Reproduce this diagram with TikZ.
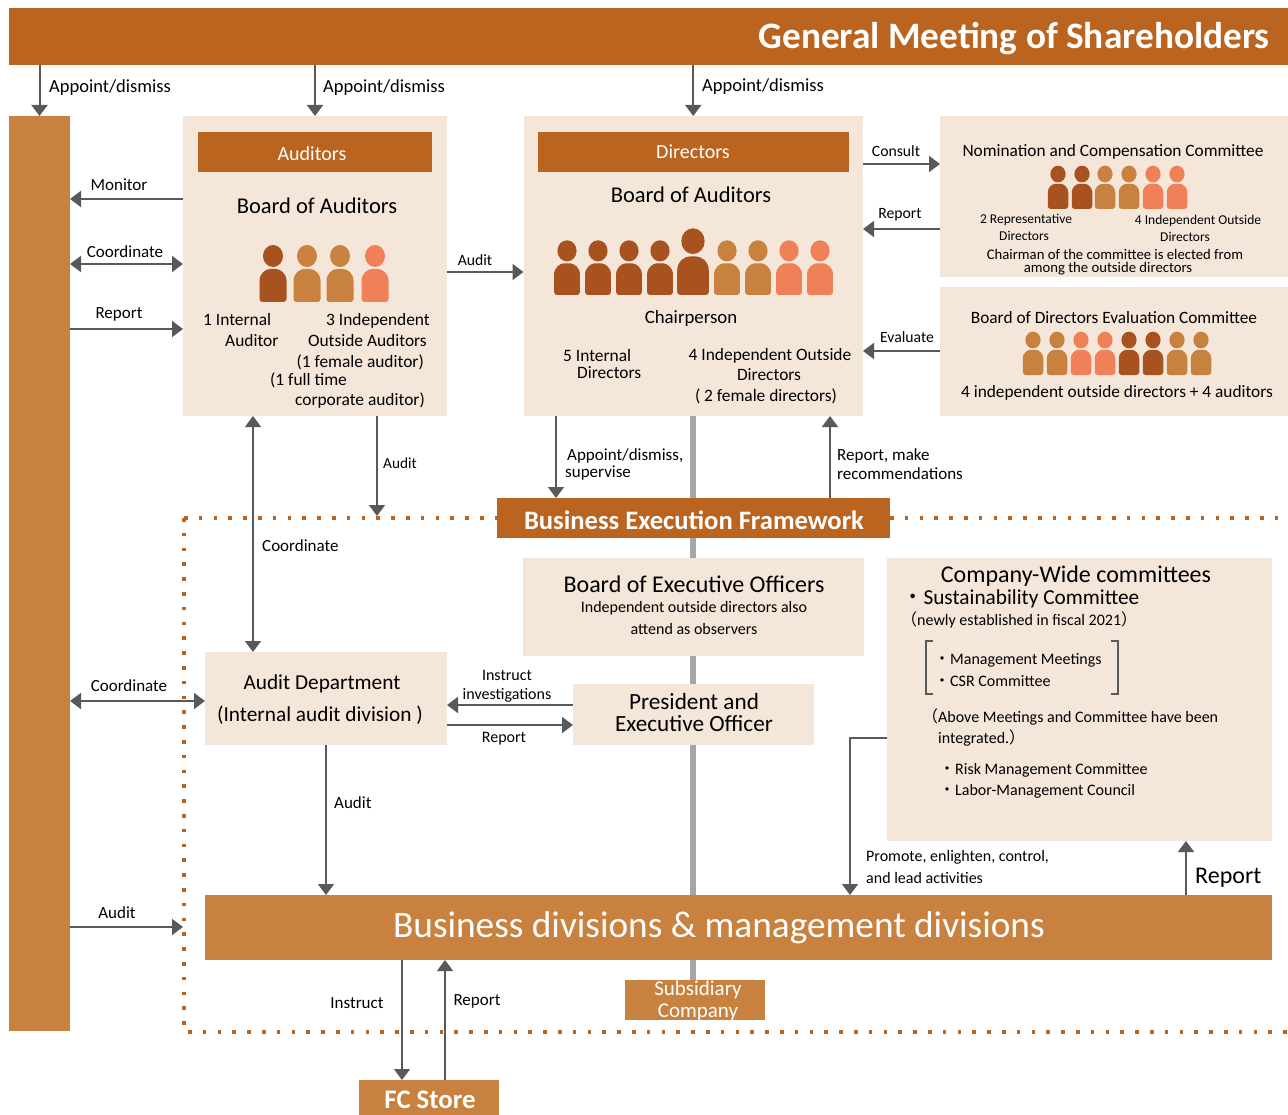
\documentclass[tikz,border=0pt]{standalone}
\usepackage{fontspec}
\setmainfont{Carlito}
\newfontfamily\cjk{Noto Sans CJK JP}
\usetikzlibrary{arrows.meta,backgrounds}

\definecolor{rust}{HTML}{BA6420}
\definecolor{ochre}{HTML}{C8813E}
\definecolor{cream}{HTML}{F4E6D9}
\definecolor{salmon}{HTML}{F08058}
\definecolor{umber}{HTML}{A8521F}
\definecolor{arrowgray}{HTML}{595959}
\definecolor{spine}{HTML}{A6A6A6}

\newcommand{\fs}[1]{\fontsize{#1}{#1}\selectfont}

\tikzset{
  box/.style={inner sep=0pt,outer sep=0pt,anchor=north west,align=center},
  lbl/.style={inner sep=0pt,align=center,yshift=-.4pt,font=\fs{17}},
  lleft/.style={lbl,anchor=west,align=left},
  arr/.style={draw=arrowgray,line width=2pt,-{Triangle[length=11pt,width=16pt]}},
  arrboth/.style={arr,{Triangle[length=11pt,width=16pt]}-{Triangle[length=11pt,width=16pt]}},
  thinarr/.style={arr,line width=1.4pt},
  dots/.style={draw=rust,line width=3.5pt,dash pattern=on 3.5pt off 11.3pt},
  staff/.pic={
    \fill[pic actions] (0,-46) ellipse [x radius=10,y radius=11];
    \fill[pic actions,rounded corners=3pt] (-13.5,0) -- (-13.5,-18)
      .. controls (-13.5,-29) and (-7,-33) .. (0,-33)
      .. controls (7,-33) and (13.5,-29) .. (13.5,-18) -- (13.5,0) -- cycle;
  }
}

\begin{document}
\begin{tikzpicture}[x=1pt,y=-1pt]
  \useasboundingbox (0,0) rectangle (1288,1115);

  % top band and left bar
  \node[box,fill=rust,minimum width=1279pt,minimum height=57pt] (gm) at (9,8) {};
  \node[inner sep=0pt,anchor=east,text=white,font=\fs{37.3}\bfseries] (gmtext) at (1270,39) {General Meeting of Shareholders};
  \node[box,fill=ochre,minimum width=61pt,minimum height=915pt] (lbar) at (9,116) {};

  % auditors
  \node[box,fill=cream,minimum width=264pt,minimum height=300pt] (audbox) at (183,116) {};
  \node[box,fill=rust,minimum width=234pt,minimum height=40pt] (audhead) at (198,132) {};
  \node[lbl,text=white,font=\fs{20}] (audtitle) at (312,153) {Auditors};
  \node[lbl,font=\fs{22.5}] (audboard) at (317,205) {Board of Auditors};
  \foreach \px/\pc in {273/umber,307/ochre,340/ochre,375/salmon}
    \pic[fill=\pc] at (\px,302) {staff};
  \node[lbl,anchor=west,font=\fs{17.4}] (audint) at (203,319) {1 Internal};
  \node[lbl,anchor=west,font=\fs{17.4}] (audint2) at (225,340) {Auditor};
  \node[lbl,anchor=east,font=\fs{17.4}] (audind) at (430,320) {3 Independent};
  \node[lbl,anchor=east,font=\fs{17.4}] (audind2) at (427,340) {Outside Auditors};
  \node[lbl,anchor=east,font=\fs{17.4}] (audfem) at (424,362) {(1 female auditor)};
  \node[lbl,anchor=west,font=\fs{17.4}] (audfull) at (270,380) {(1 full time};
  \node[lbl,anchor=east,font=\fs{17.4}] (audcorp) at (425,400) {corporate auditor)};

  % directors
  \node[box,fill=cream,minimum width=339.5pt,minimum height=300pt] (dirbox) at (523.5,116) {};
  \node[box,fill=rust,minimum width=311pt,minimum height=40pt] (dirhead) at (538,132) {};
  \node[lbl,text=white,font=\fs{20}] (dirtitle) at (693,151) {Directors};
  \node[lbl,font=\fs{22.5}] (dirboard) at (691,194) {Board of Auditors};
  \foreach \px/\pc in {567/umber,598/umber,629/umber,660/umber,727/ochre,758/ochre,789/salmon,820/salmon}
    \pic[fill=\pc,scale=.96] at (\px,295) {staff};
  \pic[fill=umber,scale=1.17] at (693,295) {staff};
  \node[lbl,font=\fs{18.8}] (dirchair) at (691,318) {Chairperson};
  \node[lbl,anchor=west,font=\fs{17.4}] (dirint) at (563,355) {5 Internal};
  \node[lbl,anchor=west,font=\fs{17.4}] (dirint2) at (577,372) {Directors};
  \node[lbl,font=\fs{17.4}] (dirind) at (770,355) {4 Independent Outside};
  \node[lbl,font=\fs{17.4}] (dirind2) at (769,374) {Directors};
  \node[lbl,font=\fs{17.4}] (dirfem) at (766,396) {( 2 female directors)};

  % committees on the right
  \node[box,fill=cream,minimum width=348pt,minimum height=161pt] (nom) at (940,116) {};
  \node[lbl,font=\fs{17.3}] (nomtitle) at (1113,151) {Nomination and Compensation Committee};
  \foreach \px/\pc in {1058/umber,1082/umber,1105/ochre,1129/ochre,1153/salmon,1177/salmon}
    \pic[fill=\pc,scale=.76] at (\px,209) {staff};
  \node[lbl,font=\fs{13.5}] (nomrep) at (1026,220) {2 Representative};
  \node[lbl,font=\fs{13.5}] (nomrep2) at (1024,236) {Directors};
  \node[lbl,font=\fs{13.5}] (nomind) at (1198,221) {4 Independent Outside};
  \node[lbl,font=\fs{13.5}] (nomind2) at (1185,237) {Directors};
  \node[lbl,font=\fs{14.7}] (nomchair) at (1115,254) {Chairman of the committee is elected from};
  \node[lbl,font=\fs{14.7}] (nomchair2) at (1108,268) {among the outside directors};

  \node[box,fill=cream,minimum width=348pt,minimum height=129pt] (evalc) at (940,287) {};
  \node[lbl,font=\fs{17.3}] (evaltitle) at (1114,317) {Board of Directors Evaluation Committee};
  \foreach \px/\pc in {1033/ochre,1057/ochre,1081/salmon,1105/salmon,1129/umber,1153/umber,1177/ochre,1201/ochre}
    \pic[fill=\pc,scale=.76] at (\px,375) {staff};
  \node[lbl,font=\fs{17.3}] (evalnote) at (1117,392) {4 independent outside directors + 4 auditors};

  % business execution
  \node[box,fill=rust,minimum width=393pt,minimum height=40pt] (bef) at (497,498) {};
  \node[lbl,text=white,font=\fs{26.6}\bfseries] (beftext) at (694,520) {Business Execution Framework};
  \node[box,fill=cream,minimum width=341pt,minimum height=98pt] (beo) at (523,558) {};
  \node[lbl,font=\fs{24}] (beotitle) at (694,584) {Board of Executive Officers};
  \node[lbl,font=\fs{16}] (beonote) at (694,608) {Independent outside directors also};
  \node[lbl,font=\fs{16}] (beonote2) at (694,629) {attend as observers};

  % company-wide committees
  \node[box,fill=cream,minimum width=385pt,minimum height=283pt] (cwc) at (887,558) {};
  \node[lbl,font=\fs{24}] (cwctitle) at (1076,576) {Company-Wide committees};
  \node[lbl,anchor=west,font=\fs{21.3}] (cwcsus) at (902,598) {{\cjk ・}Sustainability Committee};
  \node[lbl,anchor=west,font=\fs{16}] (cwcnew) at (901,620) {{\cjk （}newly established in fiscal 2021{\cjk ）}};
  \node[lbl,anchor=west,font=\fs{16}] (cwcman) at (934,660) {{\cjk ・}Management Meetings};
  \node[lbl,anchor=west,font=\fs{16}] (cwccsr) at (934,681) {{\cjk ・}CSR Committee};
  \node[lbl,anchor=west,font=\fs{16}] (cwcabove) at (922,717) {{\cjk （}Above Meetings and Committee have been};
  \node[lbl,anchor=west,font=\fs{16}] (cwcint) at (938,738) {integrated.{\cjk ）}};
  \node[lbl,anchor=west,font=\fs{16}] (cwcrisk) at (939,770) {{\cjk ・}Risk Management Committee};
  \node[lbl,anchor=west,font=\fs{16}] (cwclab) at (939,791) {{\cjk ・}Labor-Management Council};
  \draw[arrowgray,line width=1.2pt] (933,641) -- (926,641) -- (926,694) -- (933,694);
  \draw[arrowgray,line width=1.2pt] (1111,641) -- (1118,641) -- (1118,694) -- (1111,694);

  % audit department and president
  \node[box,fill=cream,minimum width=242pt,minimum height=93pt] (adept) at (205,652) {};
  \node[lbl,font=\fs{21.3}] (adepttitle) at (322,683) {Audit Department};
  \node[lbl,font=\fs{21.3}] (adeptsub) at (320,715) {(Internal audit division )};
  \node[box,fill=cream,minimum width=241pt,minimum height=61pt] (pres) at (573,684) {};
  \node[lbl,font=\fs{23.2},execute at begin node=\setlength{\baselineskip}{22.5pt}] (prestitle) at (694,712) {President and\\Executive Officer};

  % bottom boxes
  \node[box,fill=ochre,minimum width=1067pt,minimum height=65pt] (biz) at (205,895) {};
  \node[lbl,text=white,font=\fs{37.3}] (biztext) at (719,927) {Business divisions \& management divisions};
  \node[box,fill=ochre,minimum width=140pt,minimum height=40pt] (sub) at (625,980) {};
  \node[lbl,text=white,font=\fs{21},execute at begin node=\setlength{\baselineskip}{22pt}] (subtext) at (698,1000) {Subsidiary\\Company};
  \node[box,fill=ochre,minimum width=140pt,minimum height=35pt] (fc) at (359,1080) {};
  \node[lbl,text=white,font=\fs{26.8}\bfseries] (fctext) at (430,1099) {FC Store};

  % grey spine and dotted frame behind the boxes
  \begin{scope}[on background layer]
    \draw[spine,line width=6pt] (dirbox.south) -- (biz.north -| dirbox.south);
    \draw[spine,line width=6pt] (biz.south -| dirbox.south) -- (sub.north -| dirbox.south);
    \coordinate (fnw) at (184,518);
    \coordinate (fsw) at (184,1032);
    \coordinate (fne) at (1288,518);
    \coordinate (fse) at (1288,1032);
    \draw[dots] (fnw) -- (bef.west |- fnw);
    \draw[dots] (bef.east |- fnw) -- (fne);
    \draw[dots] (fnw) -- (fsw) -- (fse);
  \end{scope}

  % connectors
  \draw[arr] (gm.south -| lbar.north) -- (lbar.north);
  \draw[arr] (gm.south -| audbox.north) -- (audbox.north);
  \draw[arr] (gm.south -| dirbox.north) -- (dirbox.north);
  \node[lleft,font=\fs{18.5}] (apl) at (49,87) {Appoint/dismiss};
  \node[lleft,font=\fs{18.5}] (apa) at (323,87) {Appoint/dismiss};
  \node[lleft,font=\fs{18.5}] (apd) at (702,86) {Appoint/dismiss};

  \draw[arr] (audbox.west |- 0,199) -- (lbar.east |- 0,199);
  \draw[arrboth] (lbar.east |- 0,264) -- (audbox.west |- 0,264);
  \draw[arr] (lbar.east |- 0,329) -- (audbox.west |- 0,329);
  \node[lbl] (monl) at (119,184) {Monitor};
  \node[lbl] (cool) at (125,251) {Coordinate};
  \node[lbl] (repl) at (119,314) {Report};

  \draw[arr] (audbox.east |- 0,272) -- (dirbox.west |- 0,272);
  \node[lbl,font=\fs{15.7}] (audl) at (475,260) {Audit};
  \draw[arr] (dirbox.east |- 0,164) -- (nom.west |- 0,164);
  \node[lbl,font=\fs{15.7}] (conl) at (896,151) {Consult};
  \draw[arr] (nom.west |- 0,229) -- (dirbox.east |- 0,229);
  \node[lbl,font=\fs{15.7}] (rep2l) at (900,214) {Report};
  \draw[arr] (evalc.west |- 0,351) -- (dirbox.east |- 0,351);
  \node[lbl,font=\fs{15.7}] (evall) at (907,337) {Evaluate};

  \draw[thinarr] (dirbox.south -| 556,0) -- (bef.north -| 556,0);
  \node[lleft] (apsl) at (567,456) {Appoint/dismiss,};
  \node[lleft] (apsl2) at (565,473) {supervise};
  \draw[arr] (bef.north -| 830,0) -- (dirbox.south -| 830,0);
  \node[lleft] (recl) at (837,456) {Report, make};
  \node[lleft] (recl2) at (837,473) {recommendations};
  \draw[thinarr] (audbox.south -| 377,0) -- (377,516);
  \node[lleft,font=\fs{15.3}] (aud2l) at (383,463) {Audit};
  \draw[thinarr,{Triangle[length=11pt,width=16pt]}-{Triangle[length=11pt,width=16pt]}] (audbox.south -| 253,0) -- (adept.north -| 253,0);
  \node[lleft] (coo2l) at (262,545) {Coordinate};

  \draw[arrboth] (lbar.east |- 0,701) -- (adept.west |- 0,701);
  \node[lbl] (coo3l) at (129,685) {Coordinate};
  \draw[arr] (pres.west |- 0,705) -- (adept.east |- 0,705);
  \node[lbl,font=\fs{16}] (insl) at (507,675) {Instruct};
  \node[lbl,font=\fs{16}] (insl2) at (507,695) {investigations};
  \draw[arr] (adept.east |- 0,725) -- (pres.west |- 0,725);
  \node[lbl,font=\fs{16}] (rep3l) at (504,738) {Report};
  \draw[thinarr] (adept.south -| 326,0) -- (biz.north -| 326,0);
  \node[lleft] (aud3l) at (334,802) {Audit};
  \draw[arr] (lbar.east |- 0,927) -- (183,927);
  \node[lbl] (aud4l) at (117,912) {Audit};

  \draw[thinarr] (biz.south -| 402,0) -- (fc.north -| 402,0);
  \node[lbl] (ins2l) at (357,1003) {Instruct};
  \draw[thinarr] (fc.north -| 445,0) -- (biz.south -| 445,0);
  \node[lbl] (rep4l) at (477,1001) {Report};

  \draw[thinarr] (cwc.west |- 0,738) -- (850,738) -- (biz.north -| 850,0);
  \node[lleft,font=\fs{16}] (prol) at (866,857) {Promote, enlighten, control,};
  \node[lleft,font=\fs{16}] (prol2) at (866,878) {and lead activities};
  \draw[arr] (biz.north -| 1186,0) -- (cwc.south -| 1186,0);
  \node[lleft,font=\fs{24}] (rep5l) at (1195,877) {Report};
\end{tikzpicture}
\end{document}
